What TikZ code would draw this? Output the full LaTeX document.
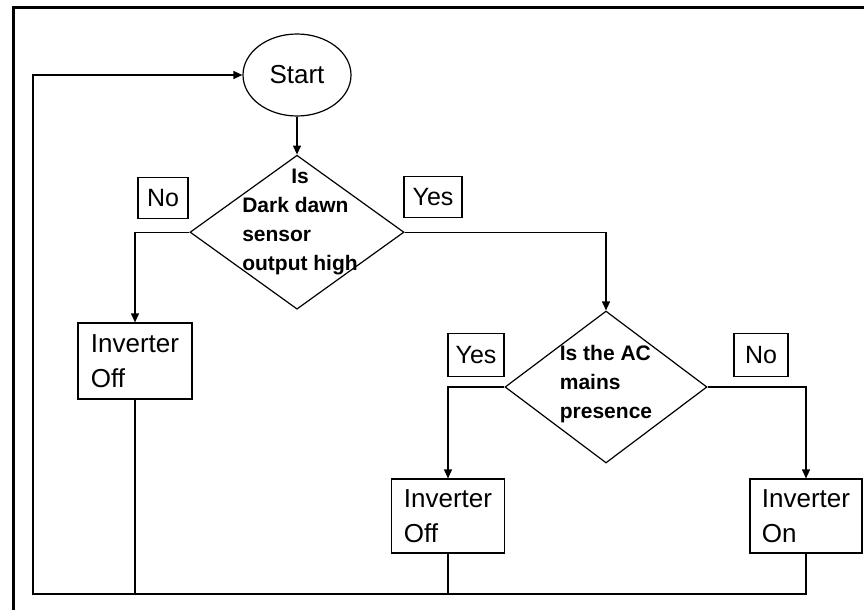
\documentclass[tikz,border=0pt]{standalone}
\usepackage{fontspec}
\setmainfont{Liberation Sans}
\usetikzlibrary{shapes.geometric}
\usetikzlibrary{positioning}
\usetikzlibrary{arrows.meta}
\tikzstyle{startD} = [ellipse,draw=black,line width=1.2pt,minimum width=108pt,minimum height=82pt,inner sep=0pt, font=\fontsize{26}{30}\selectfont]
\tikzstyle{choiceD} = [diamond,draw=black,line width=1.2pt,inner sep=0pt]
\tikzstyle{askD} = [align=left,inner sep=0pt, font=\bfseries\fontsize{21}{29}\selectfont]
\tikzstyle{actD} = [rectangle,draw=black,line width=1.2pt,minimum width=114pt,minimum height=76pt,align=left,inner sep=0pt, font=\fontsize{26}{35}\selectfont]
\tikzstyle{tagD} = [rectangle,draw=black,line width=1.2pt,minimum height=41pt,inner sep=0pt, font=\fontsize{25}{30}\selectfont]
\tikzstyle{flow} = [draw=black,line width=1.2pt,-{Triangle[length=9pt,width=8pt]}]
\tikzstyle{wire} = [draw=black,line width=1.2pt]

\begin{document}
\begin{tikzpicture}[x=1pt,y=-1pt]
\useasboundingbox (0,0) rectangle (864,610);

% Frame
\coordinate (ftop) at (864,8);
\coordinate (fcorner) at (13,8);
\coordinate (fbot) at (13,610);
\draw[line width=3pt] (ftop) -- (fcorner) -- (fbot);

% Define nodes
\node[startD]                                                      (start) at (297,75) {Start};
\node[choiceD, below = 38pt of start, minimum width=214pt, minimum height=154pt] (dark) {};
\node[askD, xshift=3pt, yshift=10pt]                               (darktxt) at (dark) {\hspace*{49pt}Is\\Dark dawn\\sensor\\output high};
\node[tagD, minimum width=50pt]                                    (noA) at (163,198) {No};
\node[tagD, minimum width=58pt]                                    (yesA) at (433,197) {Yes};

\node[actD]                                                        (off1) at (135,361) {Inverter\\Off};

\node[choiceD, minimum width=202pt, minimum height=152pt]          (ac) at (606,387) {};
\node[askD, yshift=3pt]                                            (actxt) at (ac) {Is the AC\\mains\\presence};
\node[tagD, minimum width=56pt, minimum height=43pt]               (yesB) at (476,355) {Yes};
\node[tagD, minimum width=54pt, minimum height=43pt]               (noB) at (761,355) {No};

\node[actD, minimum width=113pt, minimum height=74pt]              (off2) at (448,516) {Inverter\\Off};
\node[actD, minimum width=112pt, minimum height=74pt]              (on) at (806,516) {Inverter\\On};

\coordinate (back) at (33,594);

% Edges
\draw[flow] (start) -- (dark);%
\draw[flow] (dark.west) -| (off1.north);%
\draw[flow] (dark.east) -| (ac.north);%
\draw[flow] (ac.west) -| (off2.north);%
\draw[flow] (ac.east) -| (on.north);%
\draw[flow] (on.south) |- (back) |- (start.west);%
\draw[wire] (off1.south) -- (off1.south |- back);%
\draw[wire] (off2.south) -- (off2.south |- back);%
\end{tikzpicture}
\end{document}
